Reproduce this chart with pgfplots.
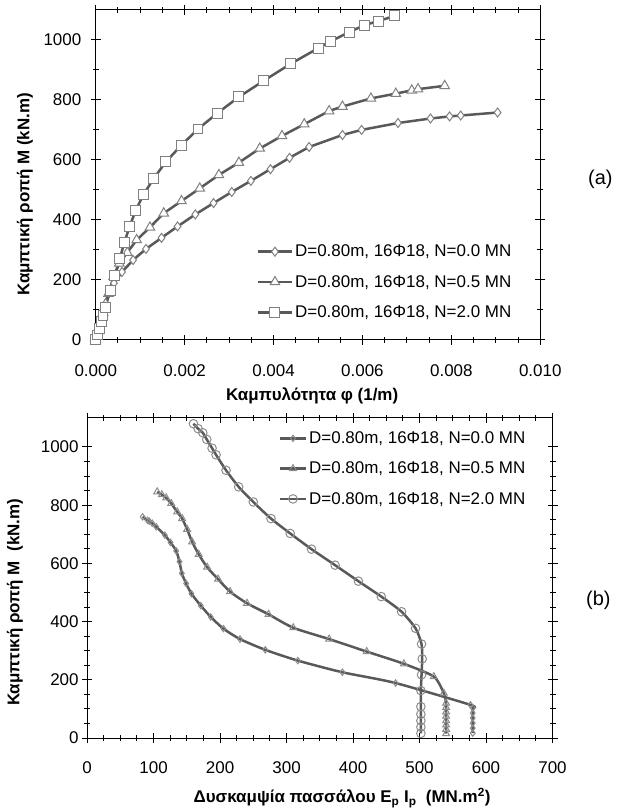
\documentclass[border=0pt]{standalone}
\usepackage{fontspec}
\setmainfont{Liberation Sans}
\usepackage{pgfplots}
\pgfplotsset{compat=1.18}
\definecolor{lin}{HTML}{595959}
\definecolor{mk}{HTML}{808080}
\definecolor{mkb}{HTML}{8C8C8C}
\begin{document}
\begin{tikzpicture}
\path (0pt,0pt) rectangle (619pt,811pt);
\pgfplotsset{
  every axis/.append style={
    scale only axis, clip=false,
    tick label style={font=\fontsize{17}{20}\selectfont},
    /pgf/number format/assume math mode=true,
    /pgf/number format/set thousands separator={},
    tick align=center, major tick length=10pt, minor tick length=6pt,
    every tick/.style={black, line width=1pt},
    axis line style={line width=1pt},
    legend cell align=left,
    legend style={draw=none, fill=none, font=\fontsize{17}{20}\selectfont, row sep=13pt},
  }
}
% ---------------- (a) ----------------
\begin{axis}[
  at={(96pt,470.3pt)}, anchor=south west,
  width=445.7pt, height=330.7pt,
  xmin=0, xmax=0.010, ymin=0, ymax=1100,
  xtick={0,0.002,0.004,0.006,0.008,0.010},
  ytick={0,200,400,600,800,1000},
  minor x tick num=3, minor y tick num=1,
  xticklabel style={/pgf/number format/fixed, /pgf/number format/fixed zerofill, /pgf/number format/precision=3, yshift=-16pt},
  scaled x ticks=false,
  yticklabel style={xshift=-6pt},
  legend style={at={(0.355,0.30)}, anchor=north west},
  legend image code/.code={\draw[mark repeat=2,mark phase=2] plot coordinates {(0pt,0pt)(17pt,0pt)(34pt,0pt)};},
]
\addplot[lin, line width=2.5pt, mark=diamond*, mark size=4.5pt, mark options={fill=white, draw=mk, line width=1pt}] coordinates {
(0,0) (0.000029,17) (0.000059,34) (0.000088,51) (0.000119,69) (0.000148,86) (0.000178,103) (0.000198,114)
(0.00041,189) (0.00059,226) (0.00084,266) (0.00113,303) (0.00148,340) (0.00184,378) (0.00224,418)
(0.00265,456) (0.00306,493) (0.00349,530) (0.00393,569) (0.00436,607) (0.00480,643) (0.00555,683)
(0.00598,700) (0.00680,723) (0.00753,738) (0.00796,745) (0.00821,748) (0.00904,758)};
\addlegendentry{D=0.80m, 16Φ18, N=0.0 MN}
\addplot[lin, line width=2.5pt, mark=triangle*, mark size=5.5pt, mark options={fill=white, draw=mk, line width=1pt}] coordinates {
(0,0) (0.000028,15) (0.000056,30) (0.000083,45) (0.000111,60) (0.000139,75) (0.000167,90) (0.000194,105) (0.000222,120)
(0.000287,154) (0.000405,211) (0.00053,255) (0.00071,291) (0.00092,333) (0.00122,375) (0.00153,422)
(0.00193,463) (0.00234,505) (0.00277,550) (0.00322,591) (0.00369,638) (0.00419,680) (0.00469,719)
(0.00525,763) (0.00555,778) (0.00619,805) (0.00675,821) (0.00711,832) (0.00725,836) (0.00785,847)};
\addlegendentry{D=0.80m, 16Φ18, N=0.5 MN}
\addplot[lin, line width=2.5pt, mark=square*, mark size=5pt, mark options={fill=white, draw=mk, line width=1pt}] coordinates {
(0,0) (0.00003,16) (0.000075,38) (0.00012,60) (0.000163,82) (0.000215,108) (0.000325,163) (0.00043,215)
(0.00054,270) (0.00064,323) (0.00076,377) (0.0009,432) (0.00108,486) (0.0013,537) (0.00158,594)
(0.00192,648) (0.0023,703) (0.00273,755) (0.00322,810) (0.00378,864) (0.00438,920) (0.00501,973)
(0.00529,996) (0.0057,1026) (0.00604,1049) (0.00635,1063) (0.00673,1080)};
\addlegendentry{D=0.80m, 16Φ18, N=2.0 MN}
\end{axis}
% ---------------- (b) ----------------
\begin{axis}[
  at={(87.3pt,71pt)}, anchor=south west,
  width=466.7pt, height=321pt,
  xmin=0, xmax=700, ymin=0, ymax=1100,
  xtick={0,100,...,700}, ytick={0,200,...,1000},
  minor x tick num=3, minor y tick num=3,
  xticklabel style={yshift=-15pt},
  legend style={at={(0.405,0.97)}, anchor=north west},
  legend image code/.code={\draw[mark repeat=2,mark phase=2] plot coordinates {(0pt,0pt)(13pt,0pt)(26pt,0pt)};},
]
\addplot[lin, line width=2.5pt, smooth, tension=0.4, mark=diamond, mark size=3.2pt, mark options={draw=mkb, line width=1pt}] coordinates {
(580,17) (580,34) (580,51) (580,69) (580,86) (580,103) (576.6,114) (464,189) (384,226) (317,266)
(268,303) (230,340) (205,376) (186,416) (171,455) (157,496) (149,531) (142.5,566) (139,606) (134,643)
(125.5,672) (117,697) (104,726) (98,738) (93.6,745) (91,748) (83.5,760)};
\addlegendentry{D=0.80m, 16Φ18, N=0.0 MN}
\addplot[lin, line width=2.5pt, smooth, tension=0.4, mark=triangle, mark size=4pt, mark options={draw=mkb, line width=1pt}] coordinates {
(540,15) (540,30) (540,45) (540,60) (540,75) (540,90) (540,105) (540,120) (536.5,154) (521.5,211)
(476.5,255) (420.6,297) (364,340) (310,379) (273,425) (240.5,463) (215,503) (197,546) (180.5,587)
(168,631) (158,674) (150.5,717) (143,754) (135.5,777) (126.5,806) (119,825) (112.5,836) (105.5,846)};
\addlegendentry{D=0.80m, 16Φ18, N=0.5 MN}
\addplot[lin, line width=2.5pt, smooth, tension=0.4, mark=o, mark size=4.3pt, mark options={draw=mkb, line width=1pt}] coordinates {
(502,16) (502,38) (502,60) (502,82) (502,108) (502,163) (503,217) (504,272) (503,323) (494,377)
(473,434) (442.5,486) (408,539) (373,594) (337.5,649) (305.5,703) (276.6,754) (250,811) (228,863)
(209,920) (194,973) (188,996) (180,1026) (174,1049) (167,1063) (160,1080)};
\addlegendentry{D=0.80m, 16Φ18, N=2.0 MN}
\end{axis}
% labels
\node[rotate=90, font=\bfseries\fontsize{17}{20}\selectfont] at (25pt,616pt) {Καμπτική ροπή Μ (kN.m)};
\node[font=\bfseries\fontsize{17}{20}\selectfont] at (313pt,414pt) {Καμπυλότητα φ (1/m)};
\node[font=\fontsize{20}{24}\selectfont] at (602pt,631pt) {(a)};
\node[rotate=90, font=\bfseries\fontsize{17}{20}\selectfont] at (15pt,207pt) {Καμπτική ροπή Μ\ \ (kN.m)};
\node[font=\bfseries\fontsize{17}{20}\selectfont] at (343pt,11pt) {Δυσκαμψία πασσάλου E\textsubscript{p} I\textsubscript{p}\ \ (MN.m\textsuperscript{2})};
\node[font=\fontsize{20}{24}\selectfont] at (600pt,209pt) {(b)};
\end{tikzpicture}
\end{document}
